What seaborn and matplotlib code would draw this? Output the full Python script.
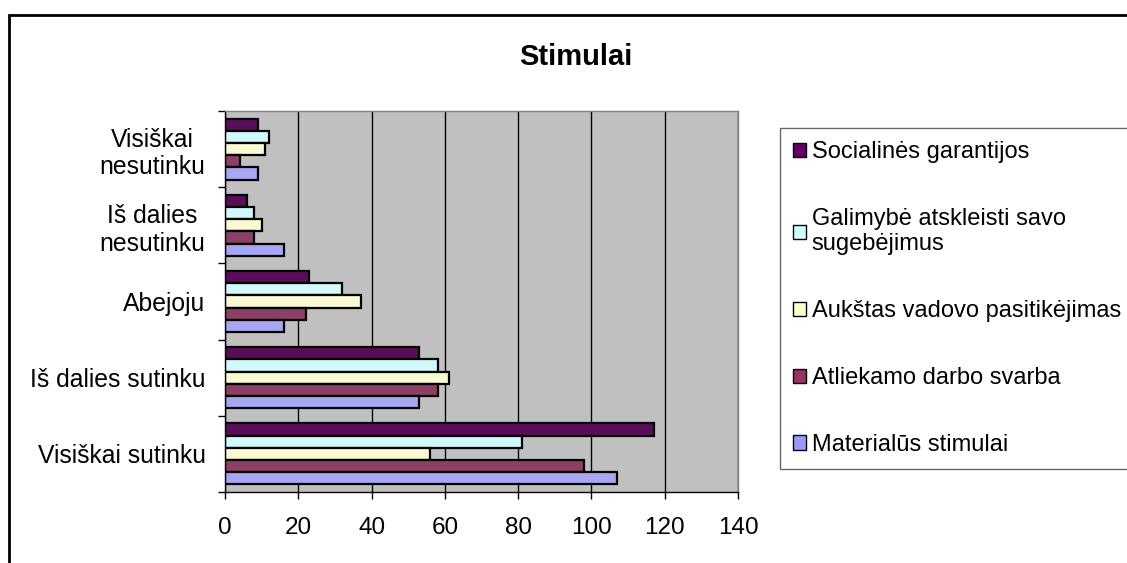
import numpy as np
import pandas as pd
import matplotlib
matplotlib.use("Agg")
from matplotlib import pyplot as plt
from matplotlib.patches import Patch, Rectangle
import seaborn as sns

# categories, top to bottom as drawn
kategorijos = ["Visiškai\nnesutinku", "Iš dalies\nnesutinku", "Abejoju",
               "Iš dalies sutinku", "Visiškai sutinku"]
# series, top to bottom inside each group (same order as legend)
stimulai = ["Socialinės garantijos", "Galimybė atskleisti savo\nsugebėjimus",
            "Aukštas vadovo pasitikėjimas", "Atliekamo darbo svarba",
            "Materialūs stimulai"]
spalvos = ["#660066", "#CCFFFF", "#FFFFCC", "#993366", "#9999FF"]

socialines = [9, 6, 23, 53, 117]
galimybe = [12, 8, 32, 58, 81]
aukstas = [11, 10, 37, 61, 56]
atliekamo = [4, 8, 22, 58, 98]
materialus = [9, 16, 16, 53, 107]

x_ticks = [0, 20, 40, 60, 80, 100, 120, 140]

if __name__ == "__main__":
    sns.set_style("white")
    plt.rcParams['font.family'] = ['Liberation Sans', 'DejaVu Sans']
    plt.rcParams['text.color'] = 'black'
    plt.rcParams['xtick.color'] = 'black'
    plt.rcParams['ytick.color'] = 'black'

    reiksmes = [socialines, galimybe, aukstas, atliekamo, materialus]
    rows = []
    for s, vals in zip(stimulai, reiksmes):
        for k, v in zip(kategorijos, vals):
            rows.append({"kategorija": k, "stimulas": s, "reiksme": v})
    df = pd.DataFrame(rows)

    W, H = 1127, 563
    fig = plt.figure(figsize=(W / 100, H / 100), dpi=100)
    fig.patch.set_facecolor("white")
    # outer chart frame (clipped by the image on the right and bottom)
    fig.patches.append(Rectangle((9 / W, -0.05), 1.2, 1.05 - 15 / H,
                                 transform=fig.transFigure, fill=False,
                                 edgecolor="black", linewidth=2))

    ax = fig.add_axes([225 / W, 1 - 492 / H, (738 - 225) / W, (492 - 111) / H])
    ax.set_facecolor("#C0C0C0")

    sns.barplot(data=df, y="kategorija", x="reiksme", hue="stimulas",
                order=kategorijos, hue_order=stimulai, palette=spalvos,
                orient="h", width=0.8, edgecolor="black", linewidth=1.6,
                ax=ax, legend=False)

    ax.set_xlim(0, 140)
    ax.set_ylim(4.5, -0.5)
    ax.set_xticks(x_ticks)
    ax.set_xticklabels([str(t) for t in x_ticks])
    ax.set_xlabel("")
    ax.set_ylabel("")
    ax.set_axisbelow(True)
    ax.xaxis.grid(True, color="black", linewidth=1)
    ax.yaxis.grid(False)

    ax.set_yticks(np.arange(len(kategorijos)))
    ax.set_yticks(np.arange(len(kategorijos) + 1) - 0.5, minor=True)
    ax.tick_params(axis="y", which="major", length=0, pad=14, labelsize=17.8)
    ax.tick_params(axis="y", which="minor", length=5, width=1, direction="out",
                   left=True, color="black")
    ax.tick_params(axis="x", length=5, width=1, direction="out", pad=13,
                   labelsize=17.5, bottom=True, color="black")
    for lab in ax.get_yticklabels():
        lab.set_multialignment("center")

    for side in ["left", "bottom"]:
        ax.spines[side].set_color("black")
        ax.spines[side].set_linewidth(1)
    for side in ["top", "right"]:
        ax.spines[side].set_color("#808080")
        ax.spines[side].set_linewidth(1)

    fig.text(576 / W, 1 - 57 / H, "Stimulai", ha="center", va="center",
             fontsize=21, fontweight="bold")

    handles = [Patch(facecolor=c, edgecolor="black", linewidth=1) for c in spalvos]
    leg = fig.legend(handles, stimulai, loc="upper left",
                     bbox_to_anchor=(780 / W, 1 - 128 / H), fontsize=17,
                     frameon=True, fancybox=False, edgecolor="#404040",
                     labelspacing=1.9, handlelength=0.55, handleheight=0.55,
                     handletextpad=0.25, borderpad=0.55, borderaxespad=0)
    leg.get_frame().set_linewidth(1)

    fig.savefig("out.png", dpi=100)
